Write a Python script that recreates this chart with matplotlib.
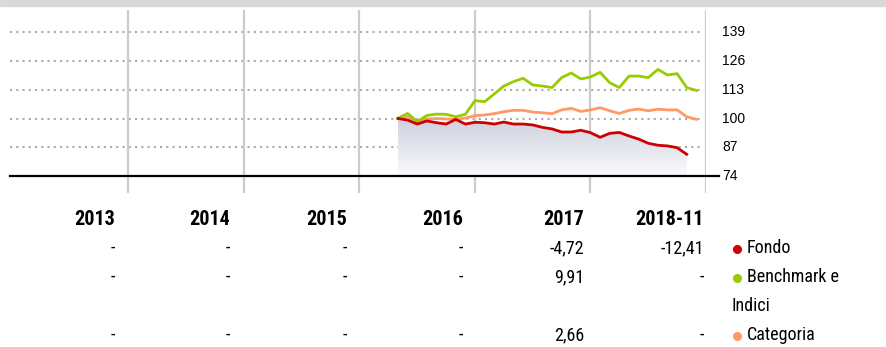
import matplotlib
matplotlib.use('Agg')
import matplotlib.pyplot as plt
import numpy as np
import pandas as pd
from matplotlib import font_manager
from matplotlib.colors import LinearSegmentedColormap
from matplotlib.lines import Line2D

# monthly index values, base 100 at end of April 2016
fondo = [100.0, 99.3, 97.5, 98.9, 98.1, 97.5, 99.6, 97.5, 98.3, 98.1, 97.5,
         98.4, 97.5, 97.5, 97.1, 96.0, 95.3, 93.9, 93.9, 94.7, 93.6, 91.5,
         93.3, 93.7, 92.1, 90.7, 88.8, 87.9, 87.6, 86.8, 83.8]
benchmark = [100.1, 102.3, 98.6, 101.4, 102.0, 101.9, 100.8, 101.9, 108.1,
             107.6, 111.1, 114.7, 116.7, 118.2, 115.2, 114.7, 114.0, 118.5,
             120.6, 117.9, 118.8, 120.9, 116.2, 114.0, 119.2, 119.2, 118.5,
             122.2, 119.7, 120.3, 114.0, 112.7]
categoria = [100.0, 100.8, 99.0, 99.8, 100.0, 99.8, 99.6, 100.2, 101.3, 101.6,
             102.2, 103.1, 103.7, 103.7, 102.9, 102.6, 102.2, 103.9, 104.6,
             103.2, 103.9, 104.9, 103.5, 102.3, 103.7, 104.3, 103.5, 104.2,
             103.9, 103.9, 100.8, 99.6]

y_ticks = [74, 87, 100, 113, 126, 139]
years = ['2013', '2014', '2015', '2016', '2017', '2018-11']
row_fondo = ['-', '-', '-', '-', '-4,72', '-12,41']
row_bench = ['-', '-', '-', '-', '9,91', '-']
row_cat = ['-', '-', '-', '-', '2,66', '-']

RED = '#cc0000'
GREEN = '#99cc00'
ORANGE = '#ff9966'

available = {f.name for f in font_manager.fontManager.ttflist}
narrow = 'DejaVu Sans'
for name in ['Roboto Condensed', 'Liberation Sans Narrow', 'Open Sans Condensed',
             'Noto Sans Display', 'Roboto']:
    if name in available:
        narrow = name
        break

W, H = 887, 347
fig = plt.figure(figsize=(W / 100, H / 100), dpi=100)


def fx(x):
    return x / W


def fy(y):
    return 1 - y / H


# grey band along the top
fig.patches.append(plt.Rectangle((0, fy(6)), 1, 6 / H, transform=fig.transFigure,
                                 color='#d9d9d9', zorder=0))

ax_l, ax_r, ax_t, ax_b = 9.5, 706, 10, 193
ax = fig.add_axes([fx(ax_l), fy(ax_b), (ax_r - ax_l) / W, (ax_b - ax_t) / H])
ax.axis('off')


def month_end_x(n, start='2016-04-30'):
    d = pd.date_range(start, periods=n, freq='ME')
    return d.year + d.month / 12.0


x_f = month_end_x(len(fondo))
x_b = month_end_x(len(benchmark))
x_c = month_end_x(len(categoria))

for v in y_ticks[1:]:
    ax.plot([2012.97, 2018.97], [v, v], color='#aaaaaa', lw=1.5,
            linestyle=(0, (1, 2)), dash_capstyle='butt', zorder=1)

for yr in range(2014, 2020):
    ax.axvline(yr, color='#cccccc', lw=1.6, zorder=1)

# shaded area below the fund line
poly = ax.fill_between(x_f, fondo, 74, color='none', lw=0)
cmap = LinearSegmentedColormap.from_list('fade', ['#fbfbfd', '#cdd0dd'])
grad = np.linspace(0, 1, 256).reshape(-1, 1)
img = ax.imshow(grad, cmap=cmap, origin='lower', aspect='auto',
                extent=[x_f[0], x_f[-1], 74, max(fondo)], zorder=2)
img.set_clip_path(poly.get_paths()[0], transform=ax.transData)
ax.set_xlim(2012.97, 2019.0)
ax.set_ylim(66.3, 149.1)

ax.plot(x_c, categoria, color=ORANGE, lw=2.0, zorder=3)
ax.plot(x_b, benchmark, color=GREEN, lw=2.0, zorder=4)
ax.plot(x_f, fondo, color=RED, lw=2.0, zorder=5)

ax.plot([2012.97, 2019.11], [74, 74], color='black', lw=1.6, zorder=6, clip_on=False)

for v in y_ticks:
    ax.text(2019.14, v, str(v), fontsize=10, family='Liberation Sans',
            va='center', ha='left', clip_on=False)

# yearly returns table below the chart
col_right = [115, 230, 347, 463, 584, 704]
for xr, lab in zip(col_right, years):
    fig.text(fx(xr), fy(219.5), lab, fontsize=14.5, fontweight='bold',
             family=narrow, ha='right', va='center')

for yrow, row in [(248, row_fondo), (277, row_bench), (335, row_cat)]:
    for xr, val in zip(col_right, row):
        fig.text(fx(xr), fy(yrow), val, fontsize=13, family=narrow,
                 ha='right', va='center')

legend = [(248, RED, 'Fondo'), (277, GREEN, 'Benchmark e'), (335, ORANGE, 'Categoria')]
for yrow, col, lab in legend:
    fig.add_artist(Line2D([fx(737)], [fy(yrow + 1)], transform=fig.transFigure,
                          marker='o', ms=5.5, color=col, lw=0))
    fig.text(fx(747), fy(yrow), lab, fontsize=13, family=narrow,
             ha='left', va='center')
fig.text(fx(732), fy(306), 'Indici', fontsize=13, family=narrow,
         ha='left', va='center')

fig.savefig('out.png', dpi=100)
